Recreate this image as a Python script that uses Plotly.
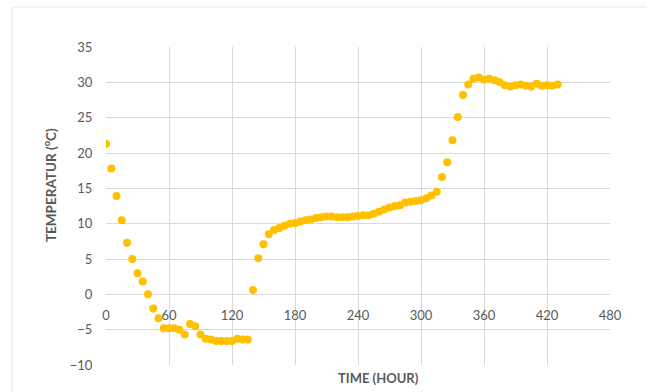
import plotly.graph_objects as go

# Sampling times (hours) and measured temperatures (°C)
time_hour = [
    0, 5, 10, 15, 20, 25, 30, 35,
    40, 45, 50, 55, 60, 65, 70, 75,
    80, 85, 90, 95, 100, 105, 110, 115,
    120, 125, 130, 135, 140, 145, 150, 155,
    160, 165, 170, 175, 180, 185, 190, 195,
    200, 205, 210, 215, 220, 225, 230, 235,
    240, 245, 250, 255, 260, 265, 270, 275,
    280, 285, 290, 295, 300, 305, 310, 315,
    320, 325, 330, 335, 340, 345, 350, 355,
    360, 365, 370, 375, 380, 385, 390, 395,
    400, 405, 410, 415, 420, 425, 430,
]
temperature_c = [
    21.3, 17.8, 13.9, 10.5, 7.3, 5.0, 3.0, 1.8,
    0.0, -2.0, -3.4, -4.8, -4.8, -4.8, -5.0, -5.7,
    -4.2, -4.5, -5.7, -6.3, -6.4, -6.6, -6.6, -6.6,
    -6.6, -6.3, -6.4, -6.4, 0.6, 5.1, 7.1, 8.5,
    9.1, 9.4, 9.7, 10.0, 10.1, 10.3, 10.5, 10.6,
    10.8, 10.9, 11.0, 11.0, 10.9, 10.9, 10.9, 11.0,
    11.1, 11.2, 11.2, 11.4, 11.7, 12.0, 12.3, 12.5,
    12.6, 13.0, 13.1, 13.2, 13.3, 13.6, 14.0, 14.5,
    16.6, 18.7, 21.8, 25.1, 28.2, 29.7, 30.5, 30.7,
    30.4, 30.5, 30.3, 30.0, 29.6, 29.4, 29.6, 29.7,
    29.5, 29.4, 29.8, 29.5, 29.6, 29.5, 29.7,
]

x_ticks = [0, 60, 120, 180, 240, 300, 360, 420, 480]
y_ticks = [-10, -5, 0, 5, 10, 15, 20, 25, 30, 35]

FONT = "Lato, 'Open Sans', sans-serif"
TEXT_COLOR = "#595959"
GRID = "#d9d9d9"

fig = go.Figure(
    go.Scatter(
        x=time_hour,
        y=temperature_c,
        mode="markers",
        marker=dict(color="#FFC000", size=8, line=dict(width=0)),
        hoverinfo="x+y",
    )
)

fig.update_layout(
    width=647,
    height=392,
    margin=dict(l=106, r=37, t=47, b=27),
    paper_bgcolor="white",
    plot_bgcolor="white",
    showlegend=False,
    font=dict(family=FONT, color=TEXT_COLOR, size=13),
    xaxis=dict(
        range=[0, 480],
        tickvals=x_ticks,
        ticktext=[str(v) for v in x_ticks],
        showgrid=True,
        gridcolor=GRID,
        gridwidth=1,
        zeroline=False,
        showline=False,
        anchor="free",
        position=10 / 45,  # x axis crosses at 0 °C
        ticks="outside",
        ticklen=4,
        tickcolor="rgba(0,0,0,0)",
        ticklabelstandoff=5,
        tickfont=dict(family=FONT, size=13, color=TEXT_COLOR),
    ),
    yaxis=dict(
        range=[-10, 35],
        tickvals=y_ticks,
        showgrid=True,
        gridcolor=GRID,
        gridwidth=1,
        zeroline=True,
        zerolinecolor=GRID,
        zerolinewidth=1,
        showline=False,
        ticks="outside",
        ticklen=4,
        tickcolor="rgba(0,0,0,0)",
        ticklabelstandoff=6,
        tickfont=dict(family=FONT, size=13, color=TEXT_COLOR),
    ),
    annotations=[
        dict(
            text="<b>TIME (HOUR)</b>",
            xref="paper", yref="paper",
            x=(378 - 106) / 504, y=(365 - 378) / 318,
            xanchor="center", yanchor="middle",
            showarrow=False,
            font=dict(family=FONT, size=13, color=TEXT_COLOR),
        ),
        dict(
            text="<b>TEMPERATUR (<sup>o</sup>C)</b>",
            xref="paper", yref="paper",
            x=(50 - 106) / 504, y=(365 - 185) / 318,
            xanchor="center", yanchor="middle",
            textangle=-90,
            showarrow=False,
            font=dict(family=FONT, size=13.5, color=TEXT_COLOR),
        ),
    ],
    shapes=[
        # light chart-area border
        dict(
            type="rect",
            xref="paper", yref="paper",
            x0=(12 - 106) / 504, x1=(660 - 106) / 504,
            y0=(365 - 400) / 318, y1=(365 - 7) / 318,
            line=dict(color="#e4e9eb", width=1),
            fillcolor="rgba(0,0,0,0)",
            layer="below",
        ),
    ],
)

fig.write_html("out.html")
